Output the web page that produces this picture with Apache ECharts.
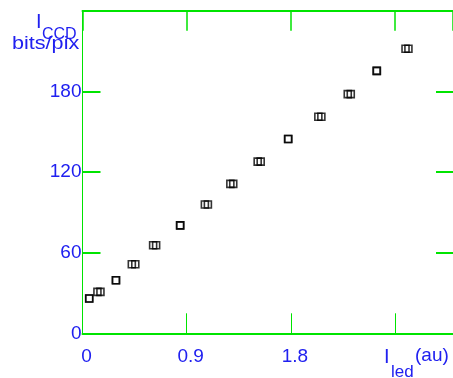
<!DOCTYPE html>
<html>
<head>
<meta charset="utf-8">
<script src="https://cdn.jsdelivr.net/npm/echarts@6/dist/echarts.min.js"></script>
<style>
html,body{margin:0;padding:0;background:#fff;}
#c{width:453px;height:378px;}
</style>
</head>
<body>
<div id="c"></div>
<script>
// ---- data ----
var xRun1 = [0.058, 0.129, 0.288, 0.426, 0.610, 0.842, 1.057, 1.277, 1.513, 1.775, 2.037, 2.291, 2.540, 2.790];
var xRun2 = [0.058, 0.155, 0.290, 0.456, 0.636, 0.845, 1.083, 1.302, 1.539, 1.778, 2.063, 2.317, 2.543, 2.815];
var yCCD  = [25.9, 30.8, 39.5, 51.4, 65.5, 80.3, 95.8, 111.2, 127.7, 144.6, 161.1, 177.9, 195.2, 211.7];
var xTickLabels = ['0', '0.9', '1.8'];
var yTickLabels = ['0', '60', '120', '180'];
var xTitle = ['I', 'led', '(au)'];
var yTitle = ['I', 'CCD', 'bits/pix'];

var GREEN = '#00e400';
var BLUE = '#2020f0';

function pairs(xs, ys){ return xs.map(function(x, i){ return [x, ys[i]]; }); }
function pick(list, v){
  for (var i = 0; i < list.length; i++) {
    if (Math.abs(parseFloat(list[i]) - v) < 1e-6) return list[i];
  }
  return '';
}

var chart = echarts.init(document.getElementById('c'), null, {renderer: 'canvas'});
var symStyle = {color: 'rgba(0,0,0,0)', borderColor: '#000', borderWidth: 1.6};
chart.setOption({
  animation: false,
  backgroundColor: '#fff',
  grid: {left: 82.5, top: 10.7, right: -2, bottom: 44.7, containLabel: false},
  xAxis: [{
    type: 'value', min: 0, max: 3.2, interval: 0.9, position: 'bottom',
    splitLine: {show: false},
    axisLine: {show: true, onZero: false, lineStyle: {color: GREEN, width: 2}},
    axisTick: {show: true, inside: true, length: 20, lineStyle: {color: GREEN, width: 1}},
    axisLabel: {show: true, color: BLUE, fontSize: 19, fontFamily: 'Liberation Sans, Arial, sans-serif',
      margin: 14, padding: [0, 0, 0, 8], showMaxLabel: false,
      formatter: function(v){ return pick(xTickLabels, v); }}
  }, {
    type: 'value', min: 0, max: 3.2, interval: 0.9, position: 'top',
    splitLine: {show: false},
    axisLine: {show: true, onZero: false, lineStyle: {color: GREEN, width: 2}},
    axisTick: {show: true, inside: true, length: 20, lineStyle: {color: GREEN, width: 1.5}},
    axisLabel: {show: false}
  }],
  yAxis: [{
    type: 'value', min: 0, max: 240, interval: 60, position: 'left',
    splitLine: {show: false},
    axisLine: {show: true, onZero: false, lineStyle: {color: GREEN, width: 1}},
    axisTick: {show: true, inside: true, length: 18, lineStyle: {color: GREEN, width: 2}},
    axisLabel: {show: true, color: BLUE, fontSize: 19, fontFamily: 'Liberation Sans, Arial, sans-serif',
      margin: 1, padding: [6, 0, 0, 0],
      formatter: function(v){ return pick(yTickLabels, v); }}
  }, {
    type: 'value', min: 0, max: 240, interval: 60, position: 'right',
    splitLine: {show: false},
    axisLine: {show: true, onZero: false, lineStyle: {color: GREEN, width: 1}},
    axisTick: {show: true, inside: true, length: 17, lineStyle: {color: GREEN, width: 2}},
    axisLabel: {show: false}
  }],
  series: [{
    type: 'scatter', xAxisIndex: 0, yAxisIndex: 0,
    symbol: 'rect', symbolSize: 7, itemStyle: symStyle,
    data: pairs(xRun1, yCCD)
  }, {
    type: 'scatter', xAxisIndex: 0, yAxisIndex: 0,
    symbol: 'rect', symbolSize: 7, itemStyle: symStyle,
    data: pairs(xRun2, yCCD)
  }],
  graphic: [
    {type: 'text', left: 36, top: 12, style: {text: yTitle[0], fill: BLUE, font: '20px "Liberation Sans", Arial, sans-serif'}},
    {type: 'text', left: 42, top: 27, style: {text: yTitle[1], fill: BLUE, font: '16px "Liberation Sans", Arial, sans-serif'}},
    {type: 'text', left: 12, top: 35, scaleX: 1.2, style: {text: yTitle[2], fill: BLUE, font: '18px "Liberation Sans", Arial, sans-serif'}},
    {type: 'text', left: 384, top: 347, style: {text: xTitle[0], fill: BLUE, font: '20px "Liberation Sans", Arial, sans-serif'}},
    {type: 'text', left: 391, top: 364, style: {text: xTitle[1], fill: BLUE, font: '17px "Liberation Sans", Arial, sans-serif'}},
    {type: 'text', left: 415, top: 346, style: {text: xTitle[2], fill: BLUE, font: '19px "Liberation Sans", Arial, sans-serif'}}
  ]
});
</script>
</body>
</html>
